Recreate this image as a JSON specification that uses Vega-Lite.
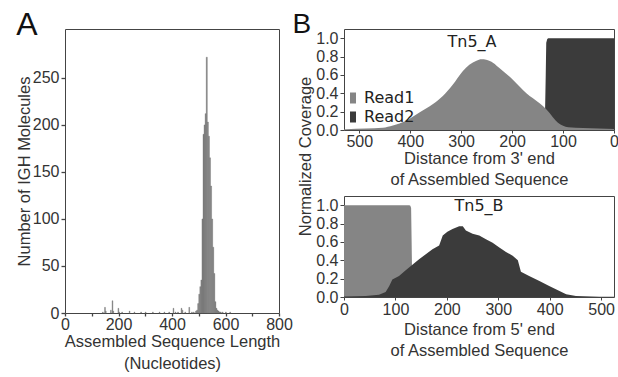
{
  "$schema": "https://vega.github.io/schema/vega-lite/v6.json",
  "padding": {"left": 15, "top": 8, "right": 0, "bottom": 0},
  "background": "white",
  "datasets": {
    "hist": [
      {"start": 140, "end": 143, "count": 1},
      {"start": 148, "end": 151, "count": 6},
      {"start": 151, "end": 154, "count": 2},
      {"start": 170, "end": 173, "count": 3},
      {"start": 176, "end": 179, "count": 13},
      {"start": 179, "end": 182, "count": 2},
      {"start": 198, "end": 201, "count": 5},
      {"start": 201, "end": 204, "count": 1},
      {"start": 212, "end": 215, "count": 1},
      {"start": 240, "end": 243, "count": 2},
      {"start": 258, "end": 261, "count": 1},
      {"start": 283, "end": 286, "count": 1},
      {"start": 300, "end": 303, "count": 1},
      {"start": 327, "end": 330, "count": 1},
      {"start": 352, "end": 355, "count": 1},
      {"start": 370, "end": 373, "count": 1},
      {"start": 388, "end": 391, "count": 1},
      {"start": 404, "end": 407, "count": 5},
      {"start": 412, "end": 415, "count": 1},
      {"start": 421, "end": 424, "count": 1},
      {"start": 434, "end": 437, "count": 5},
      {"start": 438, "end": 441, "count": 3},
      {"start": 448, "end": 451, "count": 1},
      {"start": 463, "end": 466, "count": 6},
      {"start": 473, "end": 476, "count": 1},
      {"start": 480, "end": 483, "count": 1},
      {"start": 488, "end": 492, "count": 2},
      {"start": 492, "end": 496, "count": 3},
      {"start": 496, "end": 500, "count": 10},
      {"start": 500, "end": 504, "count": 20},
      {"start": 504, "end": 508, "count": 28},
      {"start": 508, "end": 512, "count": 35},
      {"start": 512, "end": 516, "count": 100},
      {"start": 516, "end": 520, "count": 190},
      {"start": 520, "end": 524, "count": 200},
      {"start": 524, "end": 528, "count": 212},
      {"start": 528, "end": 532, "count": 272},
      {"start": 532, "end": 536, "count": 203},
      {"start": 536, "end": 540, "count": 188},
      {"start": 540, "end": 544, "count": 165},
      {"start": 544, "end": 548, "count": 135},
      {"start": 548, "end": 552, "count": 100},
      {"start": 552, "end": 556, "count": 70},
      {"start": 556, "end": 560, "count": 42},
      {"start": 560, "end": 564, "count": 12},
      {"start": 564, "end": 568, "count": 5},
      {"start": 568, "end": 572, "count": 3},
      {"start": 572, "end": 576, "count": 2},
      {"start": 576, "end": 580, "count": 1},
      {"start": 580, "end": 584, "count": 1},
      {"start": 588, "end": 591, "count": 1},
      {"start": 600, "end": 603, "count": 1},
      {"start": 616, "end": 619, "count": 1}
    ],
    "tn5a": [
      {"read": "Read2", "x": 530, "y": 0},
      {"read": "Read2", "x": 136, "y": 0},
      {"read": "Read2", "x": 134, "y": 0.6},
      {"read": "Read2", "x": 133, "y": 0.95},
      {"read": "Read2", "x": 131, "y": 0.99},
      {"read": "Read2", "x": 129, "y": 1.0},
      {"read": "Read2", "x": 0, "y": 1.0},
      {"read": "Read1", "x": 530, "y": 0.005},
      {"read": "Read1", "x": 526, "y": 0.007},
      {"read": "Read1", "x": 487, "y": 0.015},
      {"read": "Read1", "x": 454, "y": 0.025},
      {"read": "Read1", "x": 434, "y": 0.05},
      {"read": "Read1", "x": 421, "y": 0.07},
      {"read": "Read1", "x": 402, "y": 0.12},
      {"read": "Read1", "x": 382, "y": 0.19},
      {"read": "Read1", "x": 356, "y": 0.28},
      {"read": "Read1", "x": 336, "y": 0.37},
      {"read": "Read1", "x": 317, "y": 0.49},
      {"read": "Read1", "x": 297, "y": 0.64},
      {"read": "Read1", "x": 284, "y": 0.71},
      {"read": "Read1", "x": 270, "y": 0.755},
      {"read": "Read1", "x": 260, "y": 0.77},
      {"read": "Read1", "x": 251, "y": 0.765},
      {"read": "Read1", "x": 237, "y": 0.73},
      {"read": "Read1", "x": 225, "y": 0.675},
      {"read": "Read1", "x": 199, "y": 0.55},
      {"read": "Read1", "x": 172, "y": 0.40},
      {"read": "Read1", "x": 146, "y": 0.29},
      {"read": "Read1", "x": 132, "y": 0.22},
      {"read": "Read1", "x": 120, "y": 0.14},
      {"read": "Read1", "x": 110, "y": 0.08},
      {"read": "Read1", "x": 100, "y": 0.045},
      {"read": "Read1", "x": 90, "y": 0.03},
      {"read": "Read1", "x": 61, "y": 0.022},
      {"read": "Read1", "x": 30, "y": 0.015},
      {"read": "Read1", "x": 0, "y": 0.01}
    ],
    "tn5b": [
      {"read": "Read1", "x": 0, "y": 1.0},
      {"read": "Read1", "x": 127, "y": 1.0},
      {"read": "Read1", "x": 129, "y": 0.995},
      {"read": "Read1", "x": 130.5, "y": 0.97},
      {"read": "Read1", "x": 131.5, "y": 0.6},
      {"read": "Read1", "x": 133, "y": 0},
      {"read": "Read1", "x": 525, "y": 0},
      {"read": "Read2", "x": 0, "y": 0.005},
      {"read": "Read2", "x": 42, "y": 0.01},
      {"read": "Read2", "x": 68, "y": 0.025},
      {"read": "Read2", "x": 81, "y": 0.055},
      {"read": "Read2", "x": 88, "y": 0.12},
      {"read": "Read2", "x": 94, "y": 0.19},
      {"read": "Read2", "x": 107, "y": 0.23},
      {"read": "Read2", "x": 120, "y": 0.29},
      {"read": "Read2", "x": 133, "y": 0.35},
      {"read": "Read2", "x": 146, "y": 0.41},
      {"read": "Read2", "x": 159, "y": 0.465},
      {"read": "Read2", "x": 172, "y": 0.52},
      {"read": "Read2", "x": 185, "y": 0.56},
      {"read": "Read2", "x": 192, "y": 0.67},
      {"read": "Read2", "x": 201, "y": 0.71},
      {"read": "Read2", "x": 211, "y": 0.74},
      {"read": "Read2", "x": 224, "y": 0.77},
      {"read": "Read2", "x": 231, "y": 0.77},
      {"read": "Read2", "x": 237, "y": 0.725},
      {"read": "Read2", "x": 250, "y": 0.69},
      {"read": "Read2", "x": 263, "y": 0.67},
      {"read": "Read2", "x": 276, "y": 0.63},
      {"read": "Read2", "x": 289, "y": 0.59},
      {"read": "Read2", "x": 302, "y": 0.54},
      {"read": "Read2", "x": 315, "y": 0.49},
      {"read": "Read2", "x": 328, "y": 0.45},
      {"read": "Read2", "x": 338, "y": 0.40},
      {"read": "Read2", "x": 344, "y": 0.275},
      {"read": "Read2", "x": 360, "y": 0.23},
      {"read": "Read2", "x": 380, "y": 0.175},
      {"read": "Read2", "x": 399, "y": 0.12},
      {"read": "Read2", "x": 419, "y": 0.065},
      {"read": "Read2", "x": 432, "y": 0.03},
      {"read": "Read2", "x": 451, "y": 0.01},
      {"read": "Read2", "x": 497, "y": 0.004},
      {"read": "Read2", "x": 525, "y": 0.002}
    ]
  },
  "spacing": -1,
  "hconcat": [
    {
      "title": {"text": "A", "fontSize": 32, "offset": 0, "dy": 13},
      "width": 214,
      "height": 284,
      "encoding": {
        "x": {
          "field": "start", "type": "quantitative",
          "scale": {"domain": [0, 800], "nice": false},
          "axis": {
            "values": [0, 100, 200, 300, 400, 500, 600, 700, 800],
            "labelExpr": "datum.value % 200 == 0 ? datum.label : ''",
            "title": ["Assembled Sequence Length", "(Nucleotides)"],
            "titleLineHeight": 22,
            "titlePadding": 1,
            "labelPadding": 0,
            "tickSize": 3,
            "tickWidth": 1.3
          }
        },
        "y": {
          "field": "count", "type": "quantitative",
          "scale": {"domain": [0, 302], "nice": false},
          "axis": {
            "values": [0, 50, 100, 150, 200, 250],
            "title": "Number of IGH Molecules",
            "titlePadding": 0,
            "tickWidth": 1.3
          }
        }
      },
      "layer": [
        {
          "data": {"name": "hist"},
          "mark": {"type": "rect", "color": "#7a7a7a", "stroke": "#7a7a7a", "strokeWidth": 0.4},
          "encoding": {
            "x2": {"field": "end"},
            "y2": {"datum": 0}
          }
        },
        {
          "data": {"values": [{"frame": "box"}]},
          "mark": {"type": "rect", "fill": null, "filled": false, "stroke": "#444", "strokeWidth": 1.4, "strokeOpacity": 1},
          "encoding": {
            "x": {"datum": 0},
            "x2": {"datum": 800},
            "y": {"datum": 0},
            "y2": {"datum": 302}
          }
        }
      ]
    },
    {
      "title": {"text": "B", "fontSize": 28, "dx": -4, "offset": -10},
      "spacing": 66,
      "bounds": "flush",
      "resolve": {"scale": {"color": "independent"}, "legend": {"color": "independent"}},
      "vconcat": [
        {
          "title": {"text": "Tn5_A", "anchor": "middle", "frame": "group", "font": "DejaVu Sans", "fontSize": 16, "offset": -21, "dx": -7, "color": "#222"},
          "width": 270,
          "height": 101,
          "data": {"name": "tn5a"},
          "encoding": {
            "x": {
              "field": "x", "type": "quantitative",
              "scale": {"domain": [0, 530], "reverse": true, "nice": false},
              "axis": {
                "values": [0, 100, 200, 300, 400, 500],
                "title": ["Distance from 3' end", "of Assembled Sequence"],
                "titleLineHeight": 21,
                "titlePadding": 1,
                "labelPadding": 0
              }
            },
            "y": {
              "field": "y", "type": "quantitative",
              "scale": {"domain": [0, 1.1], "nice": false},
              "axis": {
                "values": [0, 0.2, 0.4, 0.6, 0.8, 1.0],
                "format": ".1f",
                "title": "Normalized Coverage",
                "titleX": -39,
                "titleY": 127,
                "titleBaseline": "middle",
                "titleAngle": -90
              }
            },
            "color": {
              "field": "read", "type": "nominal",
              "scale": {"domain": ["Read1", "Read2"], "range": ["#858585", "#3b3b3b"]},
              "legend": {
                "orient": "none", "legendX": 1, "legendY": 61, "title": null,
                "padding": 0, "rowPadding": 3, "labelOffset": 3,
                "labelFont": "DejaVu Sans", "labelFontSize": 16, "labelColor": "#222",
                "symbolType": "M-0.6,-1.1H0.6V1.1H-0.6Z", "symbolSize": 100,
                "symbolStrokeWidth": 0, "symbolOpacity": 1
              }
            }
          },
          "layer": [
            {"transform": [{"filter": "datum.read == 'Read2'"}], "mark": {"type": "area", "interpolate": "linear", "opacity": 1}},
            {"transform": [{"filter": "datum.read == 'Read1'"}], "mark": {"type": "area", "interpolate": "monotone", "opacity": 1}}
          ]
        },
        {
          "title": {"text": "Tn5_B", "anchor": "middle", "frame": "group", "font": "DejaVu Sans", "fontSize": 16, "offset": -18, "color": "#222"},
          "width": 270,
          "height": 101,
          "data": {"name": "tn5b"},
          "encoding": {
            "x": {
              "field": "x", "type": "quantitative",
              "scale": {"domain": [0, 525], "nice": false},
              "axis": {
                "values": [0, 100, 200, 300, 400, 500],
                "title": ["Distance from 5' end", "of Assembled Sequence"],
                "titleLineHeight": 21,
                "titlePadding": 4,
                "labelPadding": 1
              }
            },
            "y": {
              "field": "y", "type": "quantitative",
              "scale": {"domain": [0, 1.1], "nice": false},
              "axis": {
                "values": [0, 0.2, 0.4, 0.6, 0.8, 1.0],
                "format": ".1f",
                "title": null
              }
            },
            "color": {
              "field": "read", "type": "nominal",
              "scale": {"domain": ["Read1", "Read2"], "range": ["#858585", "#3b3b3b"]},
              "legend": null
            }
          },
          "layer": [
            {"transform": [{"filter": "datum.read == 'Read1'"}], "mark": {"type": "area", "interpolate": "linear", "opacity": 1}},
            {"transform": [{"filter": "datum.read == 'Read2'"}], "mark": {"type": "area", "interpolate": "linear", "opacity": 1}}
          ]
        }
      ]
    }
  ],
  "config": {
    "font": "Liberation Sans",
    "view": {"stroke": "#444", "strokeWidth": 1},
    "axis": {
      "domain": false, "grid": false, "labelFlush": false,
      "tickColor": "#444", "tickWidth": 1,
      "labelColor": "#333", "titleColor": "#333",
      "labelFont": "Liberation Sans", "titleFont": "Liberation Sans",
      "labelFontSize": 16, "titleFontSize": 16.5, "titleFontWeight": "normal",
      "labelPadding": 2
    },
    "axisX": {"tickSize": 3},
    "axisY": {"tickSize": 4},
    "title": {
      "font": "Liberation Sans", "fontWeight": "normal", "color": "#111",
      "anchor": "start", "frame": "bounds", "baseline": "alphabetic", "offset": 0
    }
  }
}
